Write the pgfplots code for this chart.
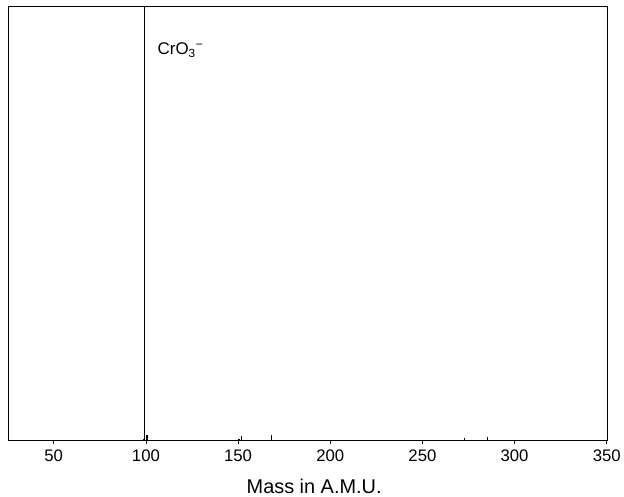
\documentclass[border=0pt]{standalone}
\usepackage{fontspec}
\setmainfont{Liberation Sans}
\usepackage{pgfplots}
\pgfplotsset{compat=1.18}
\begin{document}
\begin{tikzpicture}
\begin{axis}[
  scale only axis,
  width=601.5bp, height=436bp,
  xmin=25.7, xmax=350.3,
  ymin=0, ymax=100,
  axis line style={line width=1bp},
  xtick={50,100,150,200,250,300,350},
  xtick pos=bottom,
  ytick=\empty,
  tick align=outside,
  major tick length=3.5bp,
  xtick style={line width=0.8bp, black},
  /pgf/number format/assume math mode=true,
  xticklabel style={font=\fontsize{16.8bp}{20bp}\selectfont, anchor=base, yshift=-17bp},
  xlabel={Mass in A.M.U.},
  xlabel style={font=\fontsize{20bp}{24bp}\selectfont, at={(axis description cs:0.51,0)}, anchor=base, yshift=-53bp},
  clip=true,
]
\addplot[ycomb, black, line width=1.3bp, mark=none] coordinates {
  (99.3,130) (98.5,0.5) (100.6,1.3) (150.5,0.5) (151.8,1.0) (168.3,1.2)
  (272.8,0.6) (285.2,0.9)
};
\node[anchor=base west, font=\fontsize{17bp}{21bp}\selectfont] at (axis cs:104.5,89) {CrO\textsubscript{3}\textsuperscript{−}};
\end{axis}
\path (current axis.south west) ++(-9bp,-56bp) rectangle (current axis.north east) ++(13.5bp,7bp);
\end{tikzpicture}
\end{document}
